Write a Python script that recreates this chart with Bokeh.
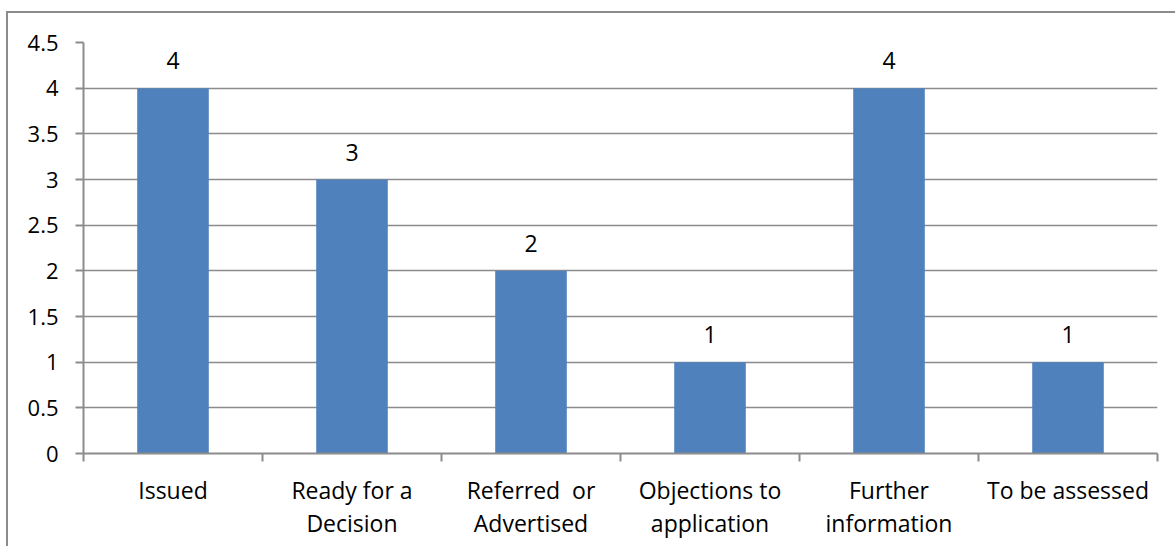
from bokeh.plotting import figure
from bokeh.models import FixedTicker, Range1d, InlineStyleSheet
from bokeh.core.properties import value
from bokeh.embed import file_html
from bokeh.resources import INLINE

categories = ["Issued", "Ready for a\nDecision", "Referred\u00a0 or\nAdvertised",
              "Objections to\napplication", "Further\ninformation", "To be assessed"]
counts = [4, 3, 2, 1, 4, 1]
y_ticks = [0, 0.5, 1, 1.5, 2, 2.5, 3, 3.5, 4, 4.5]

FONT = "Open Sans"
GREY = "#8C8C8C"
BAR = "#4F81BD"

n = len(categories)
centers = [i + 0.5 for i in range(n)]

p = figure(width=1175, height=546, output_backend="svg", toolbar_location=None,
           x_range=Range1d(0, n), y_range=Range1d(0, 4.5),
           min_border_left=83, min_border_top=42, min_border_right=18, min_border_bottom=93)
p.outline_line_color = None
p.background_fill_color = "white"
p.border_fill_color = "white"

p.vbar(x=centers, top=counts, width=0.4, bottom=0, fill_color=BAR, line_color=None)

p.text(x=centers, y=counts, text=[str(c) for c in counts], y_offset=-19,
       text_align="center", text_baseline="bottom",
       text_font=value(FONT), text_font_size="23px", text_color="black")

# x axis
xa = p.xaxis[0]
xa.ticker = FixedTicker(ticks=centers, minor_ticks=list(range(n + 1)))
xa.major_label_overrides = {c: lab for c, lab in zip(centers, categories)}
xa.major_tick_out = 0
xa.major_tick_in = 0
xa.minor_tick_out = 8
xa.minor_tick_in = 0
xa.minor_tick_line_color = GREY
xa.minor_tick_line_width = 2
xa.axis_line_color = GREY
xa.axis_line_width = 2
xa.major_label_text_font = FONT
xa.major_label_text_font_size = "23px"
xa.major_label_text_color = "black"
xa.major_label_text_line_height = 1.04
xa.major_label_standoff = 12

# y axis
ya = p.yaxis[0]
ya.ticker = FixedTicker(ticks=y_ticks)
ya.major_label_overrides = {t: (str(int(t)) if float(t).is_integer() else str(t)) for t in y_ticks}
ya.major_tick_out = 8
ya.major_tick_in = 0
ya.major_tick_line_color = GREY
ya.major_tick_line_width = 2
ya.minor_tick_line_color = None
ya.axis_line_color = GREY
ya.axis_line_width = 2
ya.major_label_text_font = FONT
ya.major_label_text_font_size = "22px"
ya.major_label_text_color = "black"
ya.major_label_standoff = 17

p.xgrid.grid_line_color = None
p.ygrid.ticker = FixedTicker(ticks=y_ticks)
p.ygrid.grid_line_color = GREY
p.ygrid.grid_line_width = 1.5

# outer chart border (left and top edges visible in the window)
p.stylesheets = [InlineStyleSheet(css=(
    ":host::after { content: ''; position: absolute; left: 6px; top: 11px; "
    "width: 3000px; height: 3000px; border-left: 2px solid #8C8C8C; "
    "border-top: 2px solid #8C8C8C; pointer-events: none; z-index: 5; }"
    ":host { overflow: hidden; }"
))]

open("out.html", "w").write(file_html(p, INLINE))
